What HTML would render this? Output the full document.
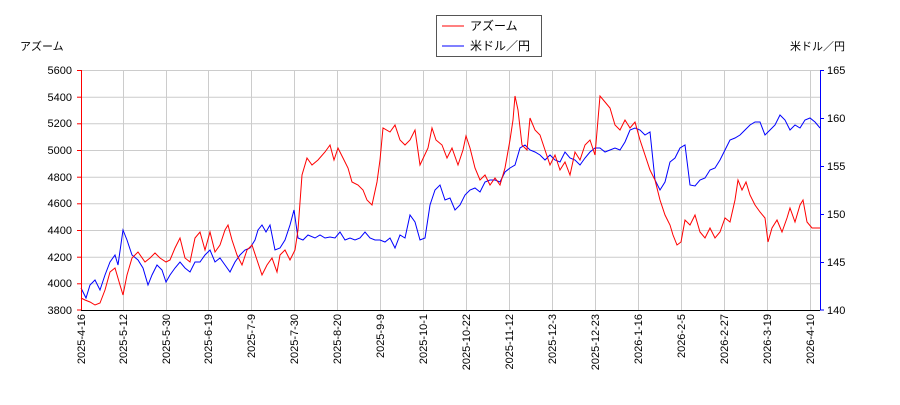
<!DOCTYPE html>
<html><head><meta charset="utf-8"><style>
body{margin:0;background:#fff}
text{font-family:"Liberation Sans","Noto Sans CJK JP",sans-serif;font-size:11px;fill:#000}
</style></head><body>
<svg width="900" height="400" xmlns="http://www.w3.org/2000/svg">
<rect width="900" height="400" fill="#fff"/>
<g stroke="#ccc" stroke-width="1">
<line x1="81" x2="820" y1="70.5" y2="70.5"/><line x1="81" x2="820" y1="97.2" y2="97.2"/><line x1="81" x2="820" y1="123.8" y2="123.8"/><line x1="81" x2="820" y1="150.5" y2="150.5"/><line x1="81" x2="820" y1="177.2" y2="177.2"/><line x1="81" x2="820" y1="203.8" y2="203.8"/><line x1="81" x2="820" y1="230.5" y2="230.5"/><line x1="81" x2="820" y1="257.2" y2="257.2"/><line x1="81" x2="820" y1="283.8" y2="283.8"/>
<line y1="70" y2="310" x1="123.5" x2="123.5"/><line y1="70" y2="310" x1="166.5" x2="166.5"/><line y1="70" y2="310" x1="208.5" x2="208.5"/><line y1="70" y2="310" x1="251.5" x2="251.5"/><line y1="70" y2="310" x1="294.5" x2="294.5"/><line y1="70" y2="310" x1="337.5" x2="337.5"/><line y1="70" y2="310" x1="380.5" x2="380.5"/><line y1="70" y2="310" x1="423.5" x2="423.5"/><line y1="70" y2="310" x1="466.5" x2="466.5"/><line y1="70" y2="310" x1="509.5" x2="509.5"/><line y1="70" y2="310" x1="552.5" x2="552.5"/><line y1="70" y2="310" x1="595.5" x2="595.5"/><line y1="70" y2="310" x1="638.5" x2="638.5"/><line y1="70" y2="310" x1="681.5" x2="681.5"/><line y1="70" y2="310" x1="724.5" x2="724.5"/><line y1="70" y2="310" x1="767.5" x2="767.5"/><line y1="70" y2="310" x1="810.5" x2="810.5"/>
</g>
<polyline fill="none" stroke="#0000ff" stroke-width="1" points="81,288 86,298 90,285 95,280 100,290 105,275 110,262 115,255 118,265 123,230 127,240 132,255 138,260 143,268 148,285 152,275 157,265 162,270 166,282 170,275 175,268 180,262 185,268 190,272 195,262 200,262 205,255 210,250 215,262 220,258 225,265 230,272 235,262 240,255 245,250 250,248 255,240 258,230 262,225 266,232 270,225 275,250 280,248 285,240 290,225 294,210 298,238 303,240 308,235 315,238 320,235 325,238 330,237 335,238 340,232 345,240 350,238 355,240 360,238 365,232 370,238 375,240 380,240 385,242 390,238 395,248 400,235 405,238 410,215 415,222 420,240 425,238 430,205 435,190 440,185 445,200 450,198 455,210 460,205 465,195 470,190 475,188 480,192 485,182 490,180 495,180 500,182 505,172 510,168 515,165 520,148 525,145 530,150 535,152 540,155 545,160 550,155 555,160 560,162 565,152 570,158 575,160 580,165 585,158 590,152 595,148 600,148 605,152 610,150 615,148 620,150 625,142 630,130 635,128 640,130 645,135 650,132 655,180 660,190 665,182 670,162 675,158 680,148 685,145 690,185 695,186 700,180 705,178 710,170 715,168 720,160 725,150 730,140 735,138 740,135 745,130 750,125 755,122 760,122 765,135 770,130 775,125 780,115 785,120 790,130 795,125 800,128 805,120 810,118 815,122 820,128"/>
<polyline fill="none" stroke="#ff0000" stroke-width="1" points="81,298 85,300 90,302 95,305 100,303 105,290 110,272 115,268 120,285 123,295 127,275 132,258 138,252 145,262 150,258 155,253 160,258 166,262 170,260 175,248 180,238 185,258 190,262 195,238 200,232 205,250 210,232 215,252 220,245 225,230 228,225 232,240 237,255 242,265 247,250 252,245 257,260 262,275 267,265 272,258 277,272 280,255 285,250 290,260 295,250 298,230 302,175 307,158 312,165 318,160 325,152 330,145 334,160 338,148 343,158 348,168 352,182 358,185 363,190 367,200 372,205 377,182 380,160 383,128 390,132 395,125 400,140 405,145 410,140 415,130 420,165 428,148 432,128 436,140 442,145 447,158 452,148 458,165 463,150 466,136 470,148 475,168 480,180 485,175 490,185 495,178 500,185 505,168 510,140 513,120 515,96 518,110 522,145 527,150 530,118 535,130 540,135 545,150 550,165 555,155 560,170 565,162 570,175 575,152 580,160 585,145 590,140 595,155 600,96 605,102 610,108 615,125 620,130 625,120 630,128 635,122 640,140 645,155 650,170 655,180 660,200 665,215 670,225 673,235 677,245 681,242 685,220 690,225 695,215 700,232 705,238 710,228 715,238 720,232 725,218 730,222 735,200 738,180 742,190 746,182 750,195 755,205 760,212 765,218 768,242 772,228 777,220 782,232 787,218 790,208 795,222 800,205 803,200 807,222 812,228 820,228"/>
<line x1="81.5" x2="81.5" y1="70" y2="310" stroke="#ff0000"/>
<line x1="820.5" x2="820.5" y1="70" y2="310" stroke="#0000ff"/>
<line x1="81" x2="820" y1="310.5" y2="310.5" stroke="#000"/>
<g text-anchor="end">
<text x="72" y="74">5600</text><text x="72" y="101">5400</text><text x="72" y="127">5200</text><text x="72" y="154">5000</text><text x="72" y="181">4800</text><text x="72" y="207">4600</text><text x="72" y="234">4400</text><text x="72" y="261">4200</text><text x="72" y="287">4000</text><text x="72" y="314">3800</text>
</g>
<g stroke="#ff0000"><line x1="77" x2="81" y1="70.5" y2="70.5"/><line x1="77" x2="81" y1="97.2" y2="97.2"/><line x1="77" x2="81" y1="123.8" y2="123.8"/><line x1="77" x2="81" y1="150.5" y2="150.5"/><line x1="77" x2="81" y1="177.2" y2="177.2"/><line x1="77" x2="81" y1="203.8" y2="203.8"/><line x1="77" x2="81" y1="230.5" y2="230.5"/><line x1="77" x2="81" y1="257.2" y2="257.2"/><line x1="77" x2="81" y1="283.8" y2="283.8"/><line x1="77" x2="81" y1="310" y2="310"/></g>
<g stroke="#0000ff"><line x1="820" x2="824" y1="70.5" y2="70.5"/><line x1="820" x2="824" y1="118.5" y2="118.5"/><line x1="820" x2="824" y1="166.5" y2="166.5"/><line x1="820" x2="824" y1="214.5" y2="214.5"/><line x1="820" x2="824" y1="262.5" y2="262.5"/><line x1="820" x2="824" y1="310" y2="310"/></g>
<text x="827" y="74">165</text><text x="827" y="122">160</text><text x="827" y="170">155</text><text x="827" y="218">150</text><text x="827" y="266">145</text><text x="827" y="314">140</text>
<text x="20" y="50">アズーム</text>
<text x="790" y="50">米ドル／円</text>
<g text-anchor="end">
<text transform="translate(85,314) rotate(-90)">2025-4-16</text>
<text transform="translate(127,314) rotate(-90)">2025-5-12</text>
<text transform="translate(170,314) rotate(-90)">2025-5-30</text>
<text transform="translate(212,314) rotate(-90)">2025-6-19</text>
<text transform="translate(255,314) rotate(-90)">2025-7-9</text>
<text transform="translate(298,314) rotate(-90)">2025-7-30</text>
<text transform="translate(341,314) rotate(-90)">2025-8-20</text>
<text transform="translate(384,314) rotate(-90)">2025-9-9</text>
<text transform="translate(427,314) rotate(-90)">2025-10-1</text>
<text transform="translate(470,314) rotate(-90)">2025-10-22</text>
<text transform="translate(513,314) rotate(-90)">2025-11-12</text>
<text transform="translate(556,314) rotate(-90)">2025-12-3</text>
<text transform="translate(599,314) rotate(-90)">2025-12-23</text>
<text transform="translate(642,314) rotate(-90)">2026-1-16</text>
<text transform="translate(685,314) rotate(-90)">2026-2-5</text>
<text transform="translate(728,314) rotate(-90)">2026-2-27</text>
<text transform="translate(771,314) rotate(-90)">2026-3-19</text>
<text transform="translate(814,314) rotate(-90)">2026-4-10</text>
</g>
<rect x="436.5" y="15.5" width="105" height="41" fill="#fff" stroke="#555"/>
<line x1="442" x2="464" y1="26" y2="26" stroke="#ff0000"/>
<line x1="442" x2="464" y1="46" y2="46" stroke="#0000ff"/>
<text x="470" y="30" style="font-size:12px">アズーム</text>
<text x="470" y="50" style="font-size:12px">米ドル／円</text>
</svg>
</body></html>
